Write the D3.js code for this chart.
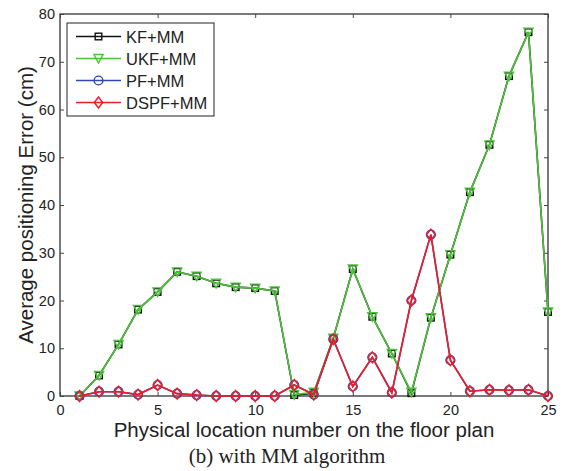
<!DOCTYPE html>
<html>
<head>
<meta charset="utf-8">
<script src="https://cdn.jsdelivr.net/npm/d3@7/dist/d3.min.js"></script>
<style>
  html, body { margin: 0; padding: 0; background: #fff; }
  svg { display: block; }
  text { font-family: "Liberation Sans", Arial, sans-serif; fill: #222; }
</style>
</head>
<body>
<svg id="chart" width="563" height="471"></svg>
<script>
// Location indices along the floor plan
const locations = d3.range(1, 26);

// Average positioning error (cm) per location
const kfMM   = [0, 4.3, 10.8, 18.1, 21.8, 26.0, 25.1, 23.6, 22.8, 22.6, 22.0, 0.2, 0.6, 12.1, 26.6, 16.6, 8.9, 0.6, 16.4, 29.6, 42.7, 52.6, 67.0, 76.2, 17.6];
const ukfMM  = [0, 4.3, 10.8, 18.1, 21.8, 26.0, 25.1, 23.6, 22.8, 22.6, 22.0, 0.3, 0.8, 12.1, 26.6, 16.6, 8.9, 0.8, 16.4, 29.6, 42.7, 52.6, 67.0, 76.2, 17.6];
const pfMM   = [0, 0.9, 0.9, 0.3, 2.3, 0.5, 0.2, 0, 0, 0, 0, 2.3, 0.3, 11.9, 2.0, 8.1, 0.7, 20.0, 33.8, 7.5, 1.0, 1.3, 1.2, 1.3, 0];
const dspfMM = [0, 0.9, 0.9, 0.3, 2.3, 0.5, 0.2, 0, 0, 0, 0, 2.3, 0.3, 11.9, 2.0, 8.1, 0.7, 20.0, 33.8, 7.5, 1.0, 1.3, 1.2, 1.3, 0];

const seriesNames = ["KF+MM", "UKF+MM", "PF+MM", "DSPF+MM"];
const xTicks = [0, 5, 10, 15, 20, 25];
const yTicks = [0, 10, 20, 30, 40, 50, 60, 70, 80];

const series = [
  { name: seriesNames[0], values: kfMM,   color: "#111111", marker: "square" },
  { name: seriesNames[1], values: ukfMM,  color: "#4cc23a", marker: "triangle" },
  { name: seriesNames[2], values: pfMM,   color: "#2f47b8", marker: "circle" },
  { name: seriesNames[3], values: dspfMM, color: "#ee1c25", marker: "diamond" }
];

const svg = d3.select("#chart");
const m = { left: 60, right: 548, top: 14, bottom: 396 };

const x = d3.scaleLinear().domain([0, 25]).range([m.left, m.right]);
const y = d3.scaleLinear().domain([0, 80]).range([m.bottom, m.top]);

// Frame
svg.append("rect")
  .attr("x", m.left).attr("y", m.top)
  .attr("width", m.right - m.left).attr("height", m.bottom - m.top)
  .attr("fill", "none").attr("stroke", "#222").attr("stroke-width", 1.2);

// Axes with inward ticks
const tickLen = 4;
const gx = svg.append("g").attr("transform", `translate(0,${m.bottom})`)
  .call(d3.axisBottom(x).tickValues(xTicks).tickSizeInner(-tickLen).tickSizeOuter(0).tickPadding(9));
const gxTop = svg.append("g").attr("transform", `translate(0,${m.top})`)
  .call(d3.axisTop(x).tickValues(xTicks).tickSizeInner(-tickLen).tickSizeOuter(0).tickFormat(""));
const gy = svg.append("g").attr("transform", `translate(${m.left},0)`)
  .call(d3.axisLeft(y).tickValues(yTicks).tickSizeInner(-tickLen).tickSizeOuter(0).tickPadding(5));
const gyRight = svg.append("g").attr("transform", `translate(${m.right},0)`)
  .call(d3.axisRight(y).tickValues(yTicks).tickSizeInner(-tickLen).tickSizeOuter(0).tickFormat(""));

[gx, gxTop, gy, gyRight].forEach(g => {
  g.select(".domain").remove();
  g.selectAll(".tick line").attr("stroke", "#444").attr("stroke-width", 1);
  g.selectAll(".tick text")
    .style("font-family", '"Liberation Sans", Arial, sans-serif')
    .style("font-size", "14.5px").attr("fill", "#222");
});

// Marker shapes
function drawMarker(g, type, cx, cy, color) {
  if (type === "square") {
    g.append("rect").attr("x", cx - 3.3).attr("y", cy - 3.3).attr("width", 6.6).attr("height", 6.6)
      .attr("fill", "none").attr("stroke", color).attr("stroke-width", 1.4);
  } else if (type === "triangle") {
    g.append("path").attr("d", `M${cx - 4.6},${cy - 4}L${cx + 4.6},${cy - 4}L${cx},${cy + 4.6}Z`)
      .attr("fill", "none").attr("stroke", color).attr("stroke-width", 1.4);
  } else if (type === "circle") {
    g.append("circle").attr("cx", cx).attr("cy", cy).attr("r", 4.4)
      .attr("fill", "none").attr("stroke", color).attr("stroke-width", 1.4);
  } else if (type === "diamond") {
    g.append("path").attr("d", `M${cx},${cy - 5.5}L${cx + 4.2},${cy}L${cx},${cy + 5.5}L${cx - 4.2},${cy}Z`)
      .attr("fill", "none").attr("stroke", color).attr("stroke-width", 1.4);
  }
}

const line = d3.line().x((d, i) => x(locations[i])).y(d => y(d));

series.forEach(s => {
  const g = svg.append("g");
  g.append("path").datum(s.values).attr("d", line)
    .attr("fill", "none").attr("stroke", s.color).attr("stroke-width", 1.6);
  s.values.forEach((v, i) => drawMarker(g, s.marker, x(locations[i]), y(v), s.color));
});

// Legend
const lg = svg.append("g");
lg.append("rect").attr("x", 67).attr("y", 23).attr("width", 147).attr("height", 93)
  .attr("fill", "#fff").attr("stroke", "#222").attr("stroke-width", 1);
series.forEach((s, i) => {
  const ly = 36.5 + i * 22;
  lg.append("line").attr("x1", 76).attr("x2", 121).attr("y1", ly).attr("y2", ly)
    .attr("stroke", s.color).attr("stroke-width", 1.6);
  drawMarker(lg, s.marker, 98.5, ly, s.color);
  lg.append("text").attr("x", 126).attr("y", ly + 6).text(s.name)
    .style("font-size", "16.5px");
});

// Axis titles
svg.append("text")
  .attr("transform", `translate(33,205) rotate(-90)`)
  .attr("text-anchor", "middle").style("font-size", "20.5px")
  .text("Average positioning Error (cm)");

svg.append("text")
  .attr("x", 304).attr("y", 437).attr("text-anchor", "middle")
  .style("font-size", "20.5px")
  .text("Physical location number on the floor plan");

svg.append("text")
  .attr("x", 287).attr("y", 463).attr("text-anchor", "middle")
  .style("font-family", '"Liberation Serif", "Times New Roman", serif')
  .style("font-size", "21px")
  .text("(b) with MM algorithm");
</script>
</body>
</html>
